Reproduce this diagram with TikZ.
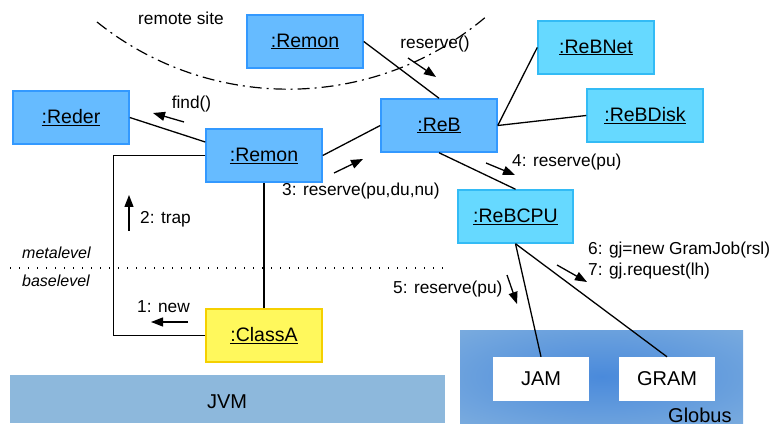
\documentclass[tikz,border=0pt]{standalone}
\usepackage{fontspec}
\setmainfont{Liberation Sans}
\usetikzlibrary{arrows.meta}
\definecolor{Meta}{HTML}{66BBFF}
\definecolor{MetaLine}{HTML}{3399FF}
\definecolor{Res}{HTML}{66D9FF}
\definecolor{ResLine}{HTML}{33BBF5}
\definecolor{Base}{HTML}{FFF85C}
\definecolor{BaseLine}{HTML}{F5D000}
\definecolor{JVMFill}{HTML}{8DB8DC}
\definecolor{GlobusIn}{HTML}{4A8ADB}
\definecolor{GlobusOut}{HTML}{8CB8E0}
\pgfdeclareradialshading{globusglow}{\pgfpoint{0bp}{0bp}}{color(0bp)=(GlobusIn); color(50bp)=(GlobusOut); color(72bp)=(GlobusOut)}

\tikzset{
  obj/.style={draw, line width=1.5pt, minimum width=116pt, minimum height=53pt, inner sep=0pt, font=\fontsize{19.5}{23}\selectfont},
  metaobj/.style={obj, fill=Meta, draw=MetaLine},
  resobj/.style={obj, fill=Res, draw=ResLine},
  baseobj/.style={obj, fill=Base, draw=BaseLine},
  svc/.style={fill=white, minimum width=96pt, minimum height=44pt, inner sep=0pt, font=\fontsize{20}{24}\selectfont},
  link/.style={line width=1.3pt},
  msg/.style={line width=1.3pt, -{Triangle[length=12pt,width=9pt]}},
  lbl/.style={font=\fontsize{17.3}{21}\selectfont, inner sep=0pt},
  lvl/.style={font=\fontsize{16}{19}\selectfont\itshape, inner sep=0pt, anchor=west},
}

\begin{document}
\begin{tikzpicture}[x=1pt,y=1pt]%
\useasboundingbox (0,0) rectangle (770,423);%
% platforms
\fill[JVMFill] (10,0) rectangle (445,48);%
\shade[shading=globusglow] (460,0) rectangle (743,93);%
\node[font=\fontsize{20}{24}\selectfont] (jvm) at (227,21) {JVM};%
\node[font=\fontsize{20}{24}\selectfont, anchor=base west, inner sep=0pt] (globus) at (668,1) {Globus};%
% meta / base level
\draw[line width=1.2pt, dash pattern=on 1.2pt off 7.8pt] (10,155) -- (445,155);%
\node[lvl] (metalevel) at (22,170) {metalevel};%
\node[lvl] (baselevel) at (22,142) {baselevel};%
% remote site
\draw[line width=1.2pt, dash pattern=on 12pt off 5pt on 2pt off 5pt] (97,401) arc[start angle=231.3, end angle=310.5, radius=306pt];%
\node[lbl] (remote) at (181,405) {remote site};%
% objects
\node[metaobj] (remon2) at (305,381.5) {\underline{:Remon}};%
\node[metaobj] (reder) at (71,305.5) {\underline{:Reder}};%
\node[metaobj] (remon) at (264,267.5) {\underline{:Remon}};%
\node[metaobj] (reb) at (439,297.5) {\underline{:ReB}};%
\node[resobj] (rebnet) at (596,375.5) {\underline{:ReBNet}};%
\node[resobj] (rebdisk) at (645,307.5) {\underline{:ReBDisk}};%
\node[resobj, minimum width=115pt] (rebcpu) at (515.5,206.5) {\underline{:ReBCPU}};%
\node[baseobj] (classa) at (264,87.5) {\underline{:ClassA}};%
\node[svc] (jam) at (541,44) {JAM};%
\node[svc] (gram) at (667,44) {GRAM};%
% links
\draw[link] (remon2.east) -- (reb.north);%
\draw[link] (reder.east) -- ([yshift=13.5pt]remon.west);%
\draw[link] (remon.east) -- (reb.west);%
\draw[link] (reb.east) -- (rebnet.west);%
\draw[link] (reb.east) -- (rebdisk.west);%
\draw[link] (reb.south) -- (rebcpu.north);%
\draw[link] (rebcpu.south) -- (jam.north);%
\draw[link] (rebcpu.south) -- (gram.north);%
\draw[link] (remon.west) -- ++(-92,0) |- (classa.west);%
\draw[link] (classa.north) -- (remon.south);%
% messages
\draw[msg] (184,301) -- (153,310);%
\node[lbl] (find) at (191.5,319) {find()};%
\draw[msg] (408,365) -- (436,346);%
\node[lbl] (reserve) at (435,379) {reserve()};%
\draw[msg] (334,250) -- (363,264);%
\node[lbl, anchor=west] (msg3) at (282,232) {3: reserve(pu,du,nu)};%
\draw[msg] (486,260) -- (515,248);%
\node[lbl, anchor=west] (msg4) at (512,261) {4: reserve(pu)};%
\draw[msg] (129,192) -- (129,228);%
\node[lbl, anchor=west] (msg2) at (140,204) {2: trap};%
\draw[msg] (188,101) -- (151,101);%
\node[lbl, anchor=west] (msg1) at (137,116) {1: new};%
\draw[msg] (507,148) -- (517,119);%
\node[lbl, anchor=west] (msg5) at (393,134) {5: reserve(pu)};%
\draw[msg] (557,158) -- (587,141);%
\node[lbl, anchor=west] (msg6) at (588,173) {6: gj=new GramJob(rsl)};%
\node[lbl, anchor=west] (msg7) at (588,152) {7: gj.request(lh)};%
\end{tikzpicture}
\end{document}
